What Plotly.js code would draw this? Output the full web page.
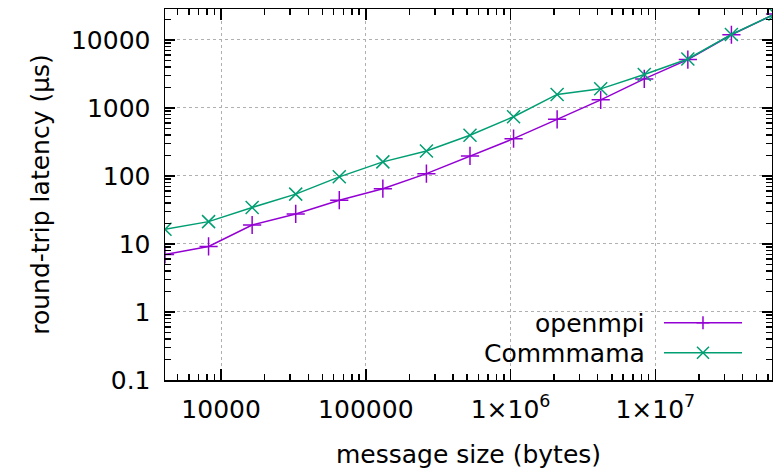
<!DOCTYPE html>
<html>
<head>
<meta charset="utf-8">
<script src="https://cdn.plot.ly/plotly-3.0.1.min.js"></script>
<style>html,body{margin:0;padding:0;background:#fff;}#chart{width:773px;height:469px;}</style>
</head>
<body>
<div id="chart"></div>
<script>
// message sizes (bytes)
const sizes = [4096, 8192, 16384, 32768, 65536, 131072, 262144, 524288, 1048576, 2097152, 4194304, 8388608, 16777216, 33554432, 67108864];
// round-trip latency (µs)
const openmpi = [7.0, 9.2, 19, 27.6, 44, 65, 108, 197, 353, 679, 1315, 2667, 5130, 11900, 24000];
const commmama = [16.4, 21.3, 34.4, 54, 97, 161, 233, 396, 741, 1577, 1907, 3090, 5240, 12000, 24000];
const seriesNames = ['openmpi', 'Commmama'];
const xTickVals = [1e4, 1e5, 1e6, 1e7];
const xTickText = ['10000', '100000', '1×10<sup>6</sup>', '1×10<sup>7</sup>'];
const yTickVals = [0.1, 1, 10, 100, 1000, 10000];
const yTickText = ['0.1', '1', '10', '100', '1000', '10000'];

const purple = '#9400d3', green = '#009e73';
function minorVals(lo, hi) {
  const v = [];
  for (let d = lo; d <= hi; d++) for (let k = 2; k <= 9; k++) v.push(k * Math.pow(10, d));
  return v;
}
const FONT = 'DejaVu Sans, sans-serif';

const traces = [
  {x: sizes, y: openmpi, name: seriesNames[0], type: 'scatter', mode: 'lines+markers',
   line: {color: purple, width: 1.5},
   marker: {symbol: 'cross-thin-open', size: 13, line: {color: purple, width: 1.5}}},
  {x: sizes, y: commmama, name: seriesNames[1], type: 'scatter', mode: 'lines+markers',
   line: {color: green, width: 1.5},
   marker: {symbol: 'x-thin-open', size: 13, line: {color: green, width: 1.5}}}
];

const axCommon = {
  type: 'log', tickmode: 'array', ticks: 'inside', tickcolor: '#000', tickwidth: 1.5,
  showline: true, linecolor: '#000', linewidth: 1.5, mirror: 'ticks',
  showgrid: true, gridcolor: '#b0b0b0', griddash: 'dot', gridwidth: 1,
  zeroline: false, automargin: false, tickfont: {size: 25, color: '#000', family: FONT}
};

const layout = {
  width: 773, height: 469,
  margin: {l: 165, r: 1, t: 9, b: 89},
  paper_bgcolor: '#fff', plot_bgcolor: '#fff',
  font: {family: FONT, color: '#000', size: 25},
  showlegend: false,
  xaxis: Object.assign({}, axCommon, {
    range: [Math.log10(4096), Math.log10(6.4e7)],
    tickvals: xTickVals, ticktext: xTickText, ticklen: 11,
    ticklabelstandoff: 6,
    title: {text: 'message size (bytes)', font: {size: 25, family: FONT}, standoff: 28},
    minor: {tickvals: minorVals(3, 7), ticks: 'inside', ticklen: 6, tickcolor: '#000', tickwidth: 1.5, showgrid: false}
  }),
  yaxis: Object.assign({}, axCommon, {
    range: [-1, 4.454],
    tickvals: yTickVals, ticktext: yTickText, ticklen: 10,
    ticklabelstandoff: 8,
    title: {text: 'round-trip latency (µs)', font: {size: 25, family: FONT}, standoff: 14},
    minor: {tickvals: minorVals(-1, 4), ticks: 'inside', ticklen: 6, tickcolor: '#000', tickwidth: 1.5, showgrid: false}
  }),
  annotations: [
    {xref: 'paper', yref: 'paper', x: 0.794, y: 0.152, xanchor: 'right', yanchor: 'middle',
     text: seriesNames[0], showarrow: false, font: {size: 25, family: FONT, color: '#000'}},
    {xref: 'paper', yref: 'paper', x: 0.794, y: 0.071, xanchor: 'right', yanchor: 'middle',
     text: seriesNames[1], showarrow: false, font: {size: 25, family: FONT, color: '#000'}}
  ],
  shapes: [
    {type: 'line', xref: 'paper', yref: 'paper', x0: 0.822, x1: 0.9506, y0: 0.1544, y1: 0.1544,
     line: {color: purple, width: 1.5}},
    {type: 'line', xref: 'paper', yref: 'paper', x0: 0.822, x1: 0.9506, y0: 0.0736, y1: 0.0736,
     line: {color: green, width: 1.5}},
    {type: 'path', xref: 'paper', yref: 'paper', xsizemode: 'pixel', ysizemode: 'pixel',
     xanchor: 0.8863, yanchor: 0.1544, path: 'M-6.5,0 L6.5,0 M0,-6.5 L0,6.5',
     line: {color: purple, width: 1.5}},
    {type: 'path', xref: 'paper', yref: 'paper', xsizemode: 'pixel', ysizemode: 'pixel',
     xanchor: 0.8863, yanchor: 0.0736, path: 'M-6,-6 L6,6 M-6,6 L6,-6',
     line: {color: green, width: 1.5}}
  ]
};

Plotly.newPlot('chart', traces, layout, {displayModeBar: false, staticPlot: true});
</script>
</body>
</html>
